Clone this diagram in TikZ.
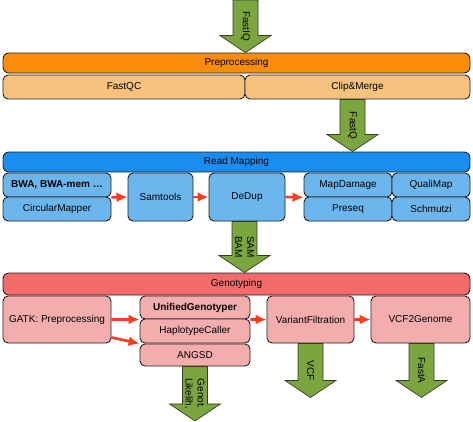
\documentclass[tikz,border=0pt]{standalone}
\usepackage{fontspec}
\setmainfont{Liberation Sans}
\usepackage{tikz}
\usetikzlibrary{calc, arrows.meta, positioning}

\definecolor{edge}{HTML}{222222}
\definecolor{orangedark}{HTML}{F98C0A}
\definecolor{orangelight}{HTML}{F6C27E}
\definecolor{bluedark}{HTML}{1C8DF0}
\definecolor{bluelight}{HTML}{6CB6EE}
\definecolor{reddark}{HTML}{F46B6B}
\definecolor{redlight}{HTML}{F3ADAD}
\definecolor{fatgreen}{HTML}{7BA53F}
\definecolor{flowred}{HTML}{FF3B1F}

% big green arrow: name, start, tip, label
\newcommand{\fatarrow}[4]{%
  \draw[bigarrow] let \p1=(#2), \p2=(#3) in
    (\x1-12.5pt,\y1) -- (\x1-12.5pt,\y2+17pt) -- (\x1-25.5pt,\y2+17pt) -- (\x1,\y2)
    -- (\x1+25.5pt,\y2+17pt) -- (\x1+12.5pt,\y2+17pt) -- (\x1+12.5pt,\y1) -- cycle;
  \node[arrowlabel] (#1) at ($(#2)!0.5!(#3)$) {#4};}

\begin{document}
\begin{tikzpicture}[x=1pt, y=-1pt, >={Latex[length=11pt,width=10pt]},
    bar/.style={draw=edge, line width=0.9pt, rounded corners=6pt, inner sep=0pt, minimum width=467pt},
    box/.style={draw=edge, line width=0.9pt, rounded corners=5pt, inner sep=0pt},
    flow/.style={->, line width=2.6pt, draw=flowred, fill=flowred},
    bigarrow/.style={draw=edge!80!fatgreen, line width=0.7pt, fill=fatgreen, line join=miter},
    arrowlabel/.style={rotate=-90, align=center, inner sep=0pt}]
    \useasboundingbox (0,0) rectangle (473,421);

    % Preprocessing
    \node[bar, fill=orangedark, minimum height=20pt] (prep) at (236.5,63) {Preprocessing};
    \node[box, fill=orangelight, minimum width=242pt, minimum height=24pt] (fastqc) at (124,87) {FastQC};
    \node[box, fill=orangelight, minimum width=225pt, minimum height=24pt] (clip) at (357.5,87) {Clip\&Merge};

    % Read mapping
    \node[bar, fill=bluedark, minimum height=20pt] (map) at (236.5,162) {Read Mapping};
    \node[box, fill=bluelight, minimum width=108pt, minimum height=24pt, font=\bfseries] (bwa) at (57,185) {BWA, BWA-mem …};
    \node[box, fill=bluelight, minimum width=108pt, minimum height=24pt] (circ) at (57,209) {CircularMapper};
    \node[box, fill=bluelight, minimum width=65pt, minimum height=48pt] (samtools) at (160.5,197) {Samtools};
    \node[box, fill=bluelight, minimum width=76pt, minimum height=48pt] (dedup) at (247,197) {DeDup};
    \node[box, fill=bluelight, minimum width=88pt, minimum height=24pt] (mapdmg) at (348,185) {MapDamage};
    \node[box, fill=bluelight, minimum width=78pt, minimum height=24pt] (quali) at (431,185) {QualiMap};
    \node[box, fill=bluelight, minimum width=88pt, minimum height=24pt] (preseq) at (348,209) {Preseq};
    \node[box, fill=bluelight, minimum width=78pt, minimum height=24pt] (schmutzi) at (431,209) {Schmutzi};

    % Genotyping
    \node[bar, fill=reddark, minimum height=22pt] (geno) at (236.5,284) {Genotyping};
    \node[box, fill=redlight, minimum width=108pt, minimum height=47pt] (gatk) at (57,319.5) {GATK: Preprocessing};
    \node[box, fill=redlight, minimum width=110pt, minimum height=23pt, font=\bfseries] (ug) at (195,307.5) {UnifiedGenotyper};
    \node[box, fill=redlight, minimum width=110pt, minimum height=24pt] (hc) at (195,331) {HaplotypeCaller};
    \node[box, fill=redlight, minimum width=110pt, minimum height=22pt] (angsd) at (195,355) {ANGSD};
    \node[box, fill=redlight, minimum width=87pt, minimum height=47pt] (vf) at (310.5,319.5) {VariantFiltration};
    \node[box, fill=redlight, minimum width=99pt, minimum height=47pt] (vcf2) at (420.5,319.5) {VCF2Genome};

    % red flow arrows
    \draw[flow] (bwa.south east) -- (samtools.west);
    \draw[flow] (samtools.east) -- (dedup.west);
    \draw[flow] (dedup.east) -- (mapdmg.south west);
    \draw[flow] (gatk.east) -- (ug.south west);
    \draw[flow] ($(gatk.south east)+(0,-6)$) -- (angsd.north west);
    \draw[flow] (ug.south east) -- (vf.west);
    \draw[flow] (vf.east) -- (vcf2.west);

    % green data arrows
    \coordinate (fqin) at (245.5,0);
    \coordinate (fqout) at (fqin |- prep.north);
    \coordinate (fq2in) at ($(clip.south)+(-5,0)$);
    \coordinate (fq2out) at (fq2in |- map.north);
    \coordinate (samin) at ($(dedup.south)+(-2.5,0)$);
    \coordinate (samout) at (samin |- geno.north);
    \coordinate (glin) at (angsd.south);
    \coordinate (glout) at ($(angsd.south)+(0,54.5)$);
    \coordinate (vcfin) at (vf.south);
    \coordinate (vcfout) at ($(vf.south)+(0,54)$);
    \coordinate (fain) at ($(vcf2.south)+(1,0)$);
    \coordinate (faout) at (fain |- vcfout);
    \fatarrow{fqlabel}{fqin}{fqout}{FastIQ}
    \fatarrow{fq2label}{fq2in}{fq2out}{FastQ}
    \fatarrow{samlabel}{samin}{samout}{SAM\\BAM}
    \fatarrow{gllabel}{glin}{glout}{Genot.\\Likelih.}
    \fatarrow{vcflabel}{vcfin}{vcfout}{VCF}
    \fatarrow{falabel}{fain}{faout}{FastA}
\end{tikzpicture}
\end{document}
